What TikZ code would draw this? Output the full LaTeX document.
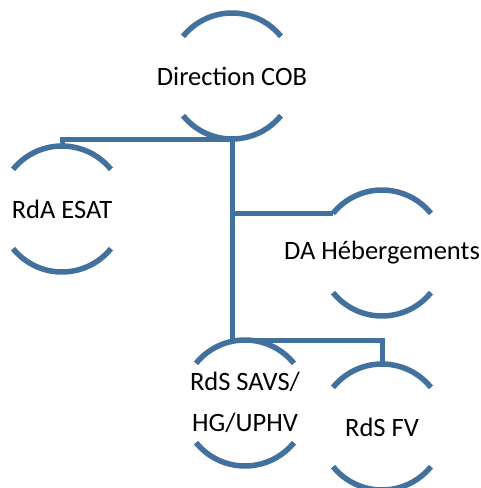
\documentclass[tikz,border=0pt]{standalone}
\usepackage{fontspec}
\setmainfont{Carlito}
\usepackage{xcolor}
\usetikzlibrary{positioning}
\definecolor{orgblue}{HTML}{41719C}
\tikzstyle{unit} = [circle, minimum size=126pt, inner sep=0pt, outer sep=0pt, font=\fontsize{26.5}{41}\selectfont]
\tikzstyle{rim} = [line width=5.5pt, orgblue]
\tikzstyle{link} = [line width=5pt, orgblue]

\begin{document}
\begin{tikzpicture}[on grid]
    \useasboundingbox (0,0) rectangle (481pt,-488pt);
    \node (cob) [unit] at (232pt,-76pt) {\makebox[0pt]{Direction COB}};
    \node (esat) [unit, below left=133pt and 170pt of cob] {\makebox[0pt]{RdA ESAT}};
    \node (heb) [unit, below right=177pt and 150pt of cob] {\makebox[0pt]{DA Hébergements}};
    \node (savs) [unit, below right=327pt and 13pt of cob] {\makebox[0pt]{\begin{tabular}{@{}c@{}}RdS SAVS/\\HG/UPHV\end{tabular}}};
    \node (fv) [unit, below right=24pt and 137pt of savs] {\makebox[0pt]{RdS FV}};
    % open circles
    \foreach \n in {cob,esat,heb,savs,fv} {
        \draw [rim] (\n.141) arc[start angle=141, end angle=39, radius=63pt];
        \draw [rim] (\n.219) arc[start angle=219, end angle=321, radius=63pt];
    }
    \draw [link] (cob.south) -| (esat.north);
    \draw [link] (cob.south) -- (cob.south |- savs.north) -| (fv.north);
    \draw [link] (heb.141) -- (heb.141 -| cob.south);
\end{tikzpicture}
\end{document}
